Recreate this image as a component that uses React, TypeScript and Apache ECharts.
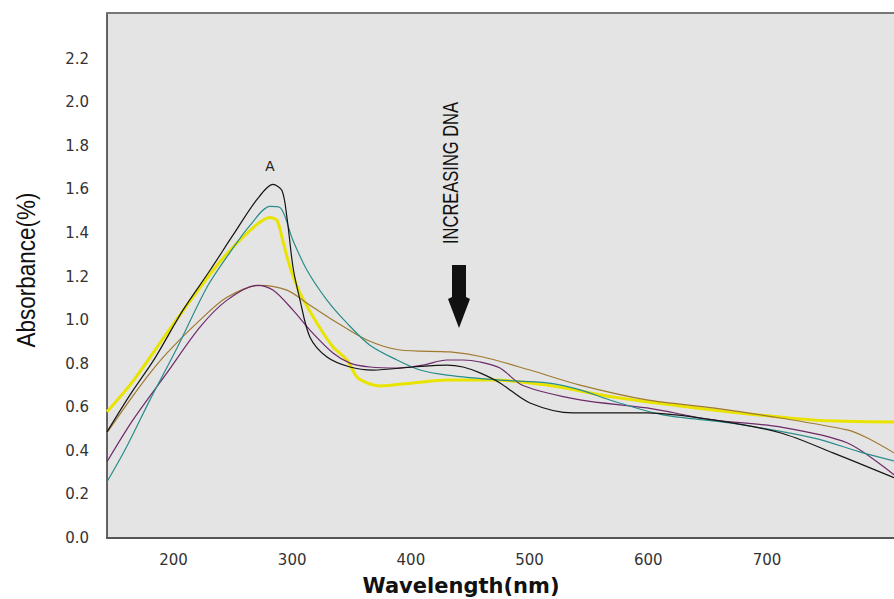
import React, { useEffect, useRef } from 'react';
import * as echarts from 'echarts';

const X_TICKS = [200, 300, 400, 500, 600, 700];

const yellowNm = [144, 165.9, 194.5, 236.7, 264.5, 281.3, 287.2, 291.4, 298.2, 306.6, 320.9, 334.4, 346.2, 354.6, 363.0, 374.0, 401.8, 430.4, 469.2, 514.7, 570.3, 654.5, 738.7, 807];
const yellowAbs = [0.579, 0.72, 0.941, 1.252, 1.412, 1.471, 1.458, 1.38, 1.243, 1.124, 0.986, 0.877, 0.817, 0.739, 0.712, 0.698, 0.712, 0.725, 0.725, 0.702, 0.647, 0.588, 0.542, 0.533];

const blackNm = [144, 163.4, 184.4, 208.0, 230.8, 250.1, 270.4, 283.8, 291.4, 295.6, 300.7, 306.6, 315.0, 329.3, 348.7, 368.1, 401.8, 430.4, 443.9, 458.2, 475.1, 500.3, 536.6, 598.9, 654.5, 711.0, 755.6, 807];
const blackAbs = [0.487, 0.657, 0.826, 1.046, 1.229, 1.39, 1.554, 1.623, 1.595, 1.471, 1.243, 1.092, 0.922, 0.831, 0.785, 0.771, 0.785, 0.794, 0.785, 0.758, 0.712, 0.62, 0.574, 0.574, 0.542, 0.483, 0.391, 0.277];

const tealNm = [144, 159.2, 180.2, 203.0, 228.2, 247.6, 264.5, 281.3, 289.7, 300.7, 312.5, 329.3, 346.2, 365.5, 388.3, 407.7, 430.4, 475.1, 514.7, 542.5, 570.3, 612.4, 668.8, 738.7, 780.9, 807];
const tealAbs = [0.258, 0.405, 0.634, 0.872, 1.151, 1.311, 1.435, 1.522, 1.517, 1.366, 1.229, 1.092, 0.986, 0.885, 0.817, 0.771, 0.748, 0.725, 0.712, 0.68, 0.629, 0.565, 0.528, 0.46, 0.391, 0.354];

const brownNm = [144, 163.4, 180.2, 194.5, 222.3, 245.1, 272.9, 295.6, 312.5, 334.4, 363.0, 390.8, 432.9, 460.7, 500.3, 542.5, 598.9, 654.5, 711.0, 767.4, 784.2, 807];
const brownAbs = [0.483, 0.634, 0.757, 0.849, 1.0, 1.105, 1.16, 1.138, 1.078, 1.0, 0.909, 0.863, 0.854, 0.831, 0.771, 0.702, 0.634, 0.597, 0.551, 0.496, 0.46, 0.391];

const purpleNm = [144, 165.9, 194.5, 222.3, 245.1, 270.4, 283.8, 300.7, 315.0, 334.4, 348.7, 365.5, 388.3, 410.2, 430.4, 443.9, 458.2, 475.1, 494.4, 542.5, 598.9, 654.5, 711.0, 767.4, 807];
const purpleAbs = [0.35, 0.542, 0.758, 0.968, 1.092, 1.16, 1.138, 1.046, 0.954, 0.849, 0.803, 0.785, 0.78, 0.794, 0.817, 0.817, 0.808, 0.78, 0.7, 0.634, 0.597, 0.542, 0.51, 0.437, 0.29];

const pairs = (xs: number[], ys: number[]) => xs.map((x, i) => [x, ys[i]]);

const lineSeries = (name: string, xs: number[], ys: number[], color: string, width: number) => ({
  name,
  type: 'line',
  data: pairs(xs, ys),
  showSymbol: false,
  symbol: 'none',
  smooth: 0.3,
  lineStyle: { color, width },
  xAxisIndex: 0,
  yAxisIndex: 0,
});

export default function App() {
  const ref = useRef<HTMLDivElement>(null);
  useEffect(() => {
    if (!ref.current) return;
    const chart = echarts.init(ref.current, null, { renderer: 'svg' });
    const option: any = {
      animation: false,
      backgroundColor: '#ffffff',
      grid: { left: 107, top: 13, right: 0, bottom: 61, show: true, backgroundColor: '#e4e4e4', borderWidth: 0 },
      xAxis: [
        {
          type: 'value', min: 144, max: 807,
          axisLine: { show: true, onZero: false, lineStyle: { color: '#555', width: 2 } },
          axisTick: { show: false },
          splitLine: { show: false },
          axisLabel: { customValues: X_TICKS, margin: 14, fontSize: 15, fontFamily: 'DejaVu Sans', color: '#333' },
        },
        {
          type: 'value', position: 'top', min: 144, max: 807,
          axisLine: { show: true, onZero: false, lineStyle: { color: '#777', width: 2 } },
          axisTick: { show: false },
          axisLabel: { show: false },
          splitLine: { show: false },
        },
      ],
      yAxis: {
        type: 'value', min: 0, max: 2.41, interval: 0.2,
        axisLine: { show: true, onZero: false, lineStyle: { color: '#333', width: 1.5 } },
        axisTick: { show: false },
        splitLine: { show: false },
        axisLabel: {
          margin: 18, fontSize: 15, fontFamily: 'DejaVu Sans', color: '#333',
          formatter: (v: number) => (v > 2.3 ? '' : v.toFixed(1)),
        },
      },
      series: [
        lineSeries('Yellow', yellowNm, yellowAbs, '#e8e400', 3),
        lineSeries('Brown', brownNm, brownAbs, '#a07a30', 1.2),
        lineSeries('Purple', purpleNm, purpleAbs, '#6e2a6a', 1.2),
        lineSeries('Teal', tealNm, tealAbs, '#2a8c8c', 1.2),
        lineSeries('Black', blackNm, blackAbs, '#151515', 1.2),
      ],
      graphic: [
        {
          type: 'text', x: 270, y: 166,
          style: { text: 'A', font: '14px "Liberation Sans"', fill: '#222', textAlign: 'center', textVerticalAlign: 'middle' },
        },
        {
          type: 'text', x: 450, y: 173, rotation: Math.PI / 2, scaleX: 0.75,
          style: { text: 'INCREASING DNA', font: '22px "Liberation Sans"', fill: '#111', textAlign: 'center', textVerticalAlign: 'middle' },
        },
        {
          type: 'polygon',
          shape: { points: [[452, 265], [466, 265], [466, 297], [470, 299], [459, 328], [448, 299], [452, 297]] },
          style: { fill: '#111' },
        },
        {
          type: 'text', x: 26, y: 270, rotation: Math.PI / 2, scaleX: 0.9,
          style: { text: 'Absorbance(%)', font: '25px "Liberation Sans"', fill: '#111', textAlign: 'center', textVerticalAlign: 'middle' },
        },
        {
          type: 'text', x: 461, y: 586,
          style: { text: 'Wavelength(nm)', font: 'bold 21px "DejaVu Sans"', fill: '#111', textAlign: 'center', textVerticalAlign: 'middle' },
        },
      ],
    };
    chart.setOption(option);
    return () => chart.dispose();
  }, []);
  return <div ref={ref} style={{ position: 'absolute', left: 0, top: 0, width: 894, height: 599 }} />;
}
